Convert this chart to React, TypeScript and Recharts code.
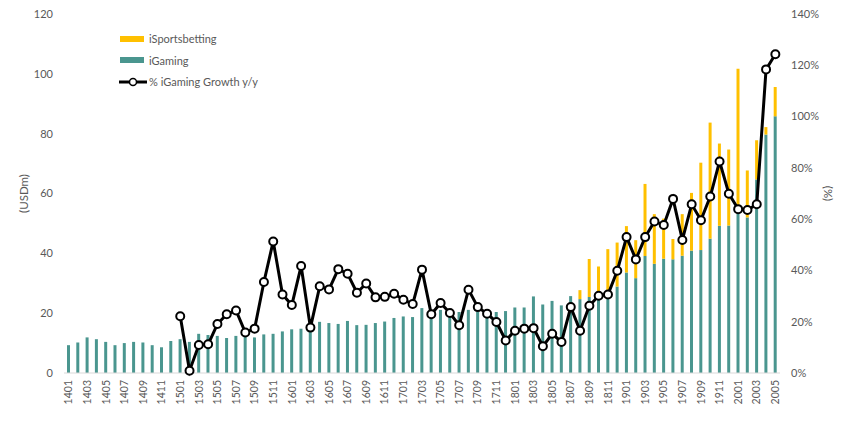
import { ComposedChart, Bar, Line, XAxis, YAxis, Legend } from 'recharts'

const months = [
  '1401', '1402', '1403', '1404', '1405', '1406', '1407', '1408', '1409', '1410', '1411', '1412',
  '1501', '1502', '1503', '1504', '1505', '1506', '1507', '1508', '1509', '1510', '1511', '1512',
  '1601', '1602', '1603', '1604', '1605', '1606', '1607', '1608', '1609', '1610', '1611', '1612',
  '1701', '1702', '1703', '1704', '1705', '1706', '1707', '1708', '1709', '1710', '1711', '1712',
  '1801', '1802', '1803', '1804', '1805', '1806', '1807', '1808', '1809', '1810', '1811', '1812',
  '1901', '1902', '1903', '1904', '1905', '1906', '1907', '1908', '1909', '1910', '1911', '1912',
  '2001', '2002', '2003', '2004', '2005',
]

// USDm
const iGaming = [
  9.3, 10.2, 11.9, 11.3, 10.4, 9.3, 10.0, 10.4, 10.2, 9.3, 8.6, 10.7,
  11.3, 10.4, 13.1, 12.7, 12.4, 11.7, 12.4, 12.8, 11.9, 12.9, 13.1, 13.9,
  14.6, 14.8, 15.5, 17.1, 16.7, 16.4, 17.4, 16.0, 16.1, 16.7, 17.2, 18.4,
  18.9, 18.7, 21.7, 20.0, 21.1, 18.9, 20.4, 21.1, 20.6, 20.0, 20.4, 20.7,
  21.9, 21.9, 25.6, 22.9, 24.1, 22.6, 25.7, 24.7, 25.4, 26.0, 26.5, 28.9,
  33.6, 31.7, 39.1, 36.5, 38.2, 38.0, 39.2, 40.9, 41.1, 44.9, 49.2, 49.3,
  53.3, 52.0, 64.7, 79.7, 85.8,
]

// USDm, stacked on top of iGaming
const iSportsbetting = [
  0, 0, 0, 0, 0, 0, 0, 0, 0, 0, 0, 0,
  0, 0, 0, 0, 0, 0, 0, 0, 0, 0, 0, 0,
  0, 0, 0, 0, 0, 0, 0, 0, 0, 0, 0, 0,
  0, 0, 0, 0, 0, 0, 0, 0, 0, 0, 0, 0,
  0, 0, 0, 0, 0, 0, 0, 3.0, 12.7, 9.6, 14.9, 14.7,
  15.5, 12.7, 24.1, 16.6, 13.4, 6.8, 13.9, 19.3, 29.2, 38.8, 27.5, 25.4,
  48.4, 15.7, 13.1, 2.5, 9.8,
]

// % y/y
const growth = [
  null, null, null, null, null, null, null, null, null, null, null, null,
  22.1, 0.9, 10.9, 11.2, 19.1, 22.9, 24.4, 15.8, 17.3, 35.5, 51.3, 30.6,
  26.5, 41.7, 17.7, 33.8, 32.6, 40.5, 38.7, 31.3, 34.9, 29.5, 29.7, 30.9,
  28.6, 26.9, 40.3, 22.9, 27.3, 23.4, 18.6, 32.5, 25.7, 23.1, 19.9, 12.7,
  16.5, 17.3, 17.5, 10.4, 15.3, 12.1, 25.7, 16.5, 26.2, 30.1, 30.6, 39.9,
  53.0, 44.3, 53.0, 59.1, 57.7, 67.9, 51.9, 65.8, 59.6, 68.8, 82.5, 69.9,
  63.9, 63.6, 65.8, 118.4, 124.3,
]

const leftTicks = [0, 20, 40, 60, 80, 100, 120]
const rightTicks = [0, 20, 40, 60, 80, 100, 120, 140]

const data = months.map((m, i) => ({
  month: m,
  iGaming: iGaming[i],
  iSportsbetting: iSportsbetting[i],
  growth: growth[i],
}))

const TEAL = '#4a968f'
const GOLD = '#ffc000'
const TEXT = '#595959'
const FONT = 'Lato, "Liberation Sans", sans-serif'

const legendOrder = ['iSportsbetting', 'iGaming', '% iGaming Growth y/y']

const MonthTick = ({ x, y, payload }: any) => (
  <g transform={`translate(${x},${y})`}>
    <text transform="rotate(-90)" textAnchor="end" dy="0.35em" fill={TEXT} fontSize={10.5} fontFamily={FONT}>
      {payload.value}
    </text>
  </g>
)

const LegendBox = ({ payload }: any) => {
  const items = [...(payload || [])].sort(
    (a: any, b: any) => legendOrder.indexOf(a.value) - legendOrder.indexOf(b.value)
  )
  return (
    <div style={{ fontFamily: FONT, fontSize: 11, color: TEXT }}>
      {items.map((it: any) => (
        <div key={it.value} style={{ display: 'flex', alignItems: 'center', height: 21.5 }}>
          {it.type === 'line' ? (
            <svg width={28} height={10} style={{ marginRight: 2 }}>
              <line x1={0} y1={5} x2={28} y2={5} stroke="#000" strokeWidth={3} />
              <circle cx={14} cy={5} r={3.5} fill="#fff" stroke="#000" strokeWidth={1.5} />
            </svg>
          ) : (
            <span style={{ display: 'inline-block', width: 24, height: 6, background: it.color, marginRight: 5, marginLeft: 1 }} />
          )}
          <span>{it.value}</span>
        </div>
      ))}
    </div>
  )
}

export default function App() {
  return (
    <div style={{ position: 'absolute', left: 0, top: 0, background: '#fff' }}>
      <ComposedChart width={850} height={425} data={data} margin={{ top: 14, right: 0, bottom: 0, left: 0 }}>
        <XAxis
          dataKey="month"
          interval={1}
          height={52}
          tickSize={0}
          tickMargin={7}
          tick={<MonthTick />}
          axisLine={{ stroke: '#d9d9d9' }}
        />
        <YAxis
          yAxisId="left"
          width={64}
          domain={[0, 120]}
          ticks={leftTicks}
          tickSize={0}
          tickMargin={11}
          axisLine={false}
          tickLine={false}
          tick={{ fill: TEXT, fontSize: 11, fontFamily: FONT }}
          label={{
            value: '(USDm)',
            angle: -90,
            position: 'insideLeft',
            offset: 24,
            style: { textAnchor: 'middle', fill: TEXT, fontSize: 11.5, fontFamily: FONT },
          }}
        />
        <YAxis
          yAxisId="right"
          orientation="right"
          width={70}
          domain={[0, 140]}
          ticks={rightTicks}
          tickSize={0}
          tickMargin={11}
          axisLine={false}
          tickLine={false}
          tickFormatter={(v) => `${v}%`}
          tick={{ fill: TEXT, fontSize: 11, fontFamily: FONT }}
          label={{
            value: '(%)',
            angle: 90,
            position: 'insideRight',
            offset: 22,
            style: { textAnchor: 'middle', fill: TEXT, fontSize: 11.5, fontFamily: FONT },
          }}
        />
        <Legend
          layout="vertical"
          align="center"
          verticalAlign="middle"
          content={<LegendBox />}
          wrapperStyle={{ left: 119, top: 28, width: 220 }}
        />
        <Bar yAxisId="left" dataKey="iGaming" name="iGaming" stackId="a" fill={TEAL} barSize={3} isAnimationActive={false} />
        <Bar yAxisId="left" dataKey="iSportsbetting" name="iSportsbetting" stackId="a" fill={GOLD} barSize={3} isAnimationActive={false} />
        <Line
          yAxisId="right"
          dataKey="growth"
          name="% iGaming Growth y/y"
          type="linear"
          stroke="#000"
          strokeWidth={3}
          dot={{ r: 4, fill: '#fff', stroke: '#000', strokeWidth: 2 }}
          isAnimationActive={false}
        />
      </ComposedChart>
    </div>
  )
}
